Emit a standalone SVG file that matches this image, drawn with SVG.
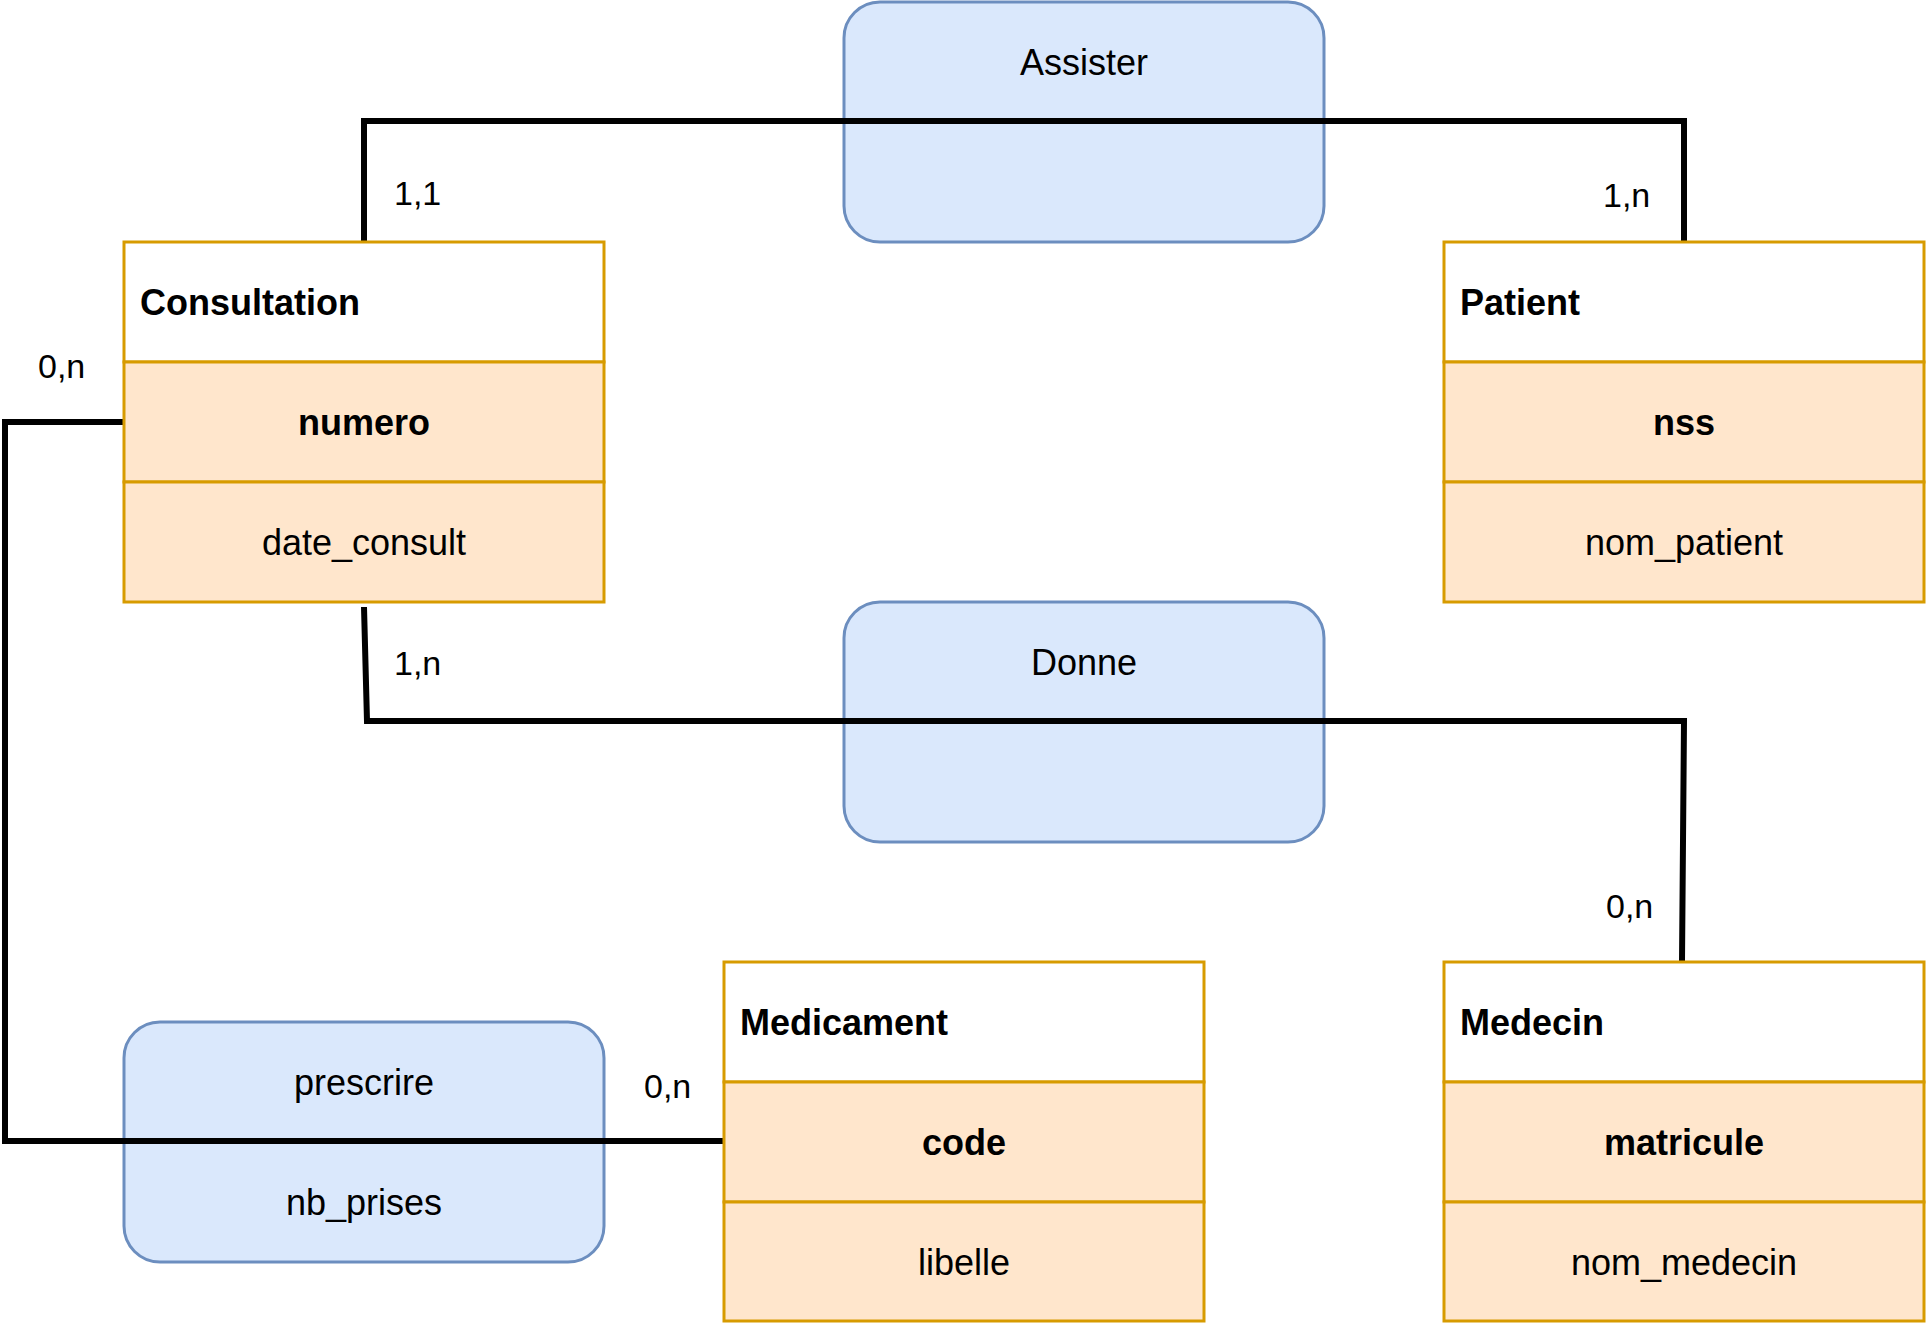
<svg xmlns="http://www.w3.org/2000/svg" width="1926" height="1323" viewBox="0 0 1926 1323">
  <style>
    text { font-family: "Liberation Sans", Arial, Helvetica, sans-serif; fill: #000; }
    .rel { fill: #dae8fc; stroke: #6c8ebf; stroke-width: 3; }
    .ent { fill: #ffe6cc; stroke: #d79b00; stroke-width: 3; }
    .hdr { fill: #ffffff; stroke: #d79b00; stroke-width: 3; }
    .title { font-size: 36px; font-weight: bold; }
    .key { font-size: 36px; font-weight: bold; text-anchor: middle; }
    .attr { font-size: 36px; text-anchor: middle; }
    .card { font-size: 34px; }
    .conn { fill: none; stroke: #000; stroke-width: 6; stroke-linejoin: miter; stroke-linecap: butt; }
  </style>

  <!-- Relationships -->
  <g id="assister">
    <rect class="rel" x="844" y="2" width="480" height="240" rx="36" ry="36"/>
    <text class="attr" x="1084" y="74.5">Assister</text>
  </g>
  <g id="donne">
    <rect class="rel" x="844" y="602" width="480" height="240" rx="36" ry="36"/>
    <text class="attr" x="1084" y="674.5">Donne</text>
  </g>
  <g id="prescrire">
    <rect class="rel" x="124" y="1022" width="480" height="240" rx="36" ry="36"/>
    <text class="attr" x="364" y="1094.5">prescrire</text>
    <text class="attr" x="364" y="1214.5">nb_prises</text>
  </g>

  <!-- Connectors -->
  <g id="connectors">
    <polyline class="conn" points="364,242 364,121 1684,121 1684,242"/>
    <polyline class="conn" points="364,607 367,721 1684,721 1682,962"/>
    <polyline class="conn" points="124,422 5,422 5,1141 724,1141"/>
  </g>

  <!-- Entities -->
  <g id="consultation">
    <rect class="hdr" x="124" y="242" width="480" height="120"/>
    <rect class="ent" x="124" y="362" width="480" height="120"/>
    <rect class="ent" x="124" y="482" width="480" height="120"/>
    <text class="title" x="140" y="314.5">Consultation</text>
    <text class="key" x="364" y="434.5">numero</text>
    <text class="attr" x="364" y="554.5">date_consult</text>
  </g>
  <g id="patient">
    <rect class="hdr" x="1444" y="242" width="480" height="120"/>
    <rect class="ent" x="1444" y="362" width="480" height="120"/>
    <rect class="ent" x="1444" y="482" width="480" height="120"/>
    <text class="title" x="1460" y="314.5">Patient</text>
    <text class="key" x="1684" y="434.5">nss</text>
    <text class="attr" x="1684" y="554.5">nom_patient</text>
  </g>
  <g id="medicament">
    <rect class="hdr" x="724" y="962" width="480" height="120"/>
    <rect class="ent" x="724" y="1082" width="480" height="120"/>
    <rect class="ent" x="724" y="1202" width="480" height="119"/>
    <text class="title" x="740" y="1034.5">Medicament</text>
    <text class="key" x="964" y="1154.5">code</text>
    <text class="attr" x="964" y="1274.5">libelle</text>
  </g>
  <g id="medecin">
    <rect class="hdr" x="1444" y="962" width="480" height="120"/>
    <rect class="ent" x="1444" y="1082" width="480" height="120"/>
    <rect class="ent" x="1444" y="1202" width="480" height="119"/>
    <text class="title" x="1460" y="1034.5">Medecin</text>
    <text class="key" x="1684" y="1154.5">matricule</text>
    <text class="attr" x="1684" y="1274.5">nom_medecin</text>
  </g>

  <!-- Cardinalities -->
  <g id="cardinalities">
    <text class="card" x="394" y="205">1,1</text>
    <text class="card" x="1603" y="207">1,n</text>
    <text class="card" x="38" y="378">0,n</text>
    <text class="card" x="394" y="675">1,n</text>
    <text class="card" x="1606" y="918">0,n</text>
    <text class="card" x="644" y="1098">0,n</text>
  </g>
</svg>
